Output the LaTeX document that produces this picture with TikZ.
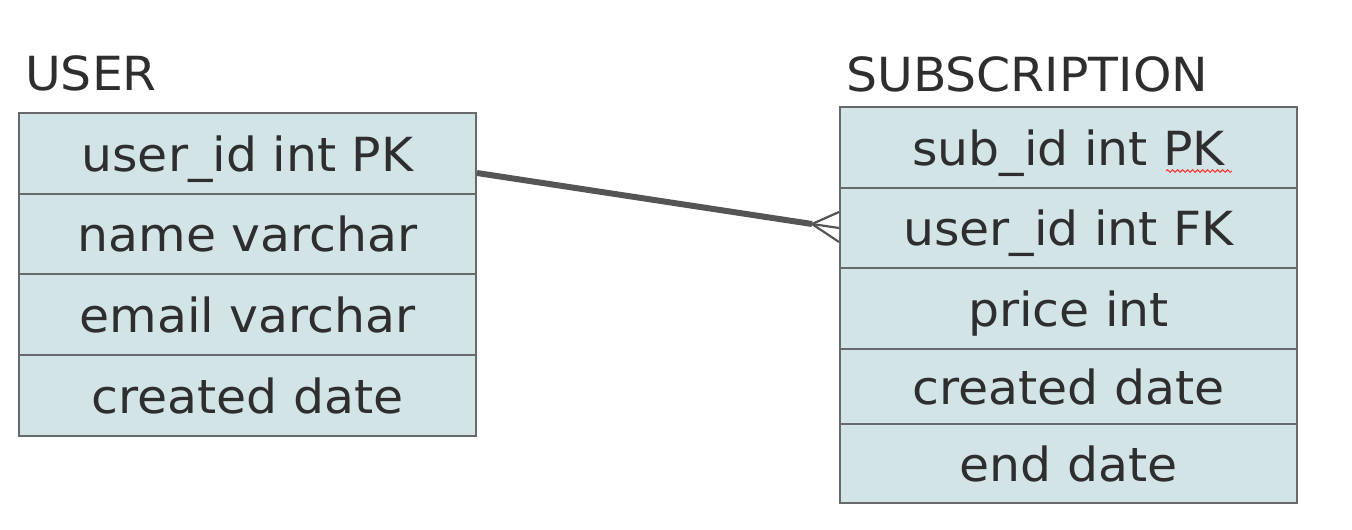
\documentclass[tikz,border=0pt]{standalone}
\usepackage{fontspec}
\setmainfont[FakeStretch=1.04]{DejaVu Sans}
\usetikzlibrary{decorations.pathmorphing}
\definecolor{cellfill}{HTML}{D3E4E7}
\definecolor{cellline}{HTML}{666A6B}
\definecolor{txt}{HTML}{2E2E2E}
\definecolor{conn}{HTML}{555555}
\begin{document}
\begin{tikzpicture}[x=1pt,y=-1pt,
  cell/.style={draw=cellline, fill=cellfill, line width=2pt, inner sep=0pt,
    minimum width=457pt, text=txt, font=\fontsize{47}{50}\selectfont,
    text height=35pt, text depth=0pt, anchor=center},
  title/.style={text=txt, font=\fontsize{47}{50}\selectfont, anchor=base west, inner sep=0pt},
  rel/.style={draw=conn, line width=6pt},
  foot/.style={draw=conn, line width=2.2pt}]
\useasboundingbox (0,0) rectangle (1352,530);
% USER table
\node[title] (ut) at (25,90) {USER};
\node[cell, minimum height=81pt] (u1) at (247.5,153.5) {user\_id int PK};
\node[cell, minimum height=80pt] (u2) at (247.5,234) {name varchar};
\node[cell, minimum height=81pt] (u3) at (247.5,314.5) {email varchar};
\node[cell, minimum height=81pt] (u4) at (247.5,395.5) {created date};
% SUBSCRIPTION table
\node[title] (st) at (846,91) {SUBSCRIPTION};
\node[cell, minimum height=81pt] (s1) at (1068.5,147.5) {sub\_id int PK};
\node[cell, minimum height=80pt] (s2) at (1068.5,228) {user\_id int FK};
\node[cell, minimum height=81pt] (s3) at (1068.5,308.5) {price int};
\node[cell, minimum height=75pt] (s4) at (1068.5,386.5) {created date};
\node[cell, minimum height=79pt] (s5) at (1068.5,463.5) {end date};
% spell-check squiggle
\draw[red!80!white, line width=1pt, decorate, decoration={snake, amplitude=1.3pt, segment length=5pt}] (1166,171) -- (1232,171);
% relationship
\coordinate (fork) at (812,224);
\draw[rel] (u1.east |- 0,173) -- (fork);
\draw[foot] (fork) -- (s2.west |- 0,212);
\draw[foot] (fork) -- (s2.west |- 0,228);
\draw[foot] (fork) -- (s2.west |- 0,242);
\end{tikzpicture}
\end{document}
